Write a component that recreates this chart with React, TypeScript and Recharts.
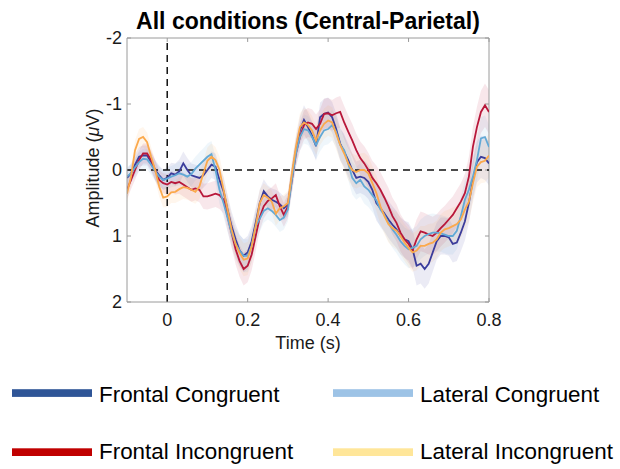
import React from "react";
import { ComposedChart, Line, Area, XAxis, YAxis, ReferenceLine } from "recharts";

// time (s), sampled every 10 ms
const times = [
  -0.1, -0.09, -0.08, -0.07, -0.06, -0.05, -0.04, -0.03, -0.02, -0.01,
  0, 0.01, 0.02, 0.03, 0.04, 0.05, 0.06, 0.07, 0.08, 0.09,
  0.1, 0.11, 0.12, 0.13, 0.14, 0.15, 0.16, 0.17, 0.18, 0.19,
  0.2, 0.21, 0.22, 0.23, 0.24, 0.25, 0.26, 0.27, 0.28, 0.29,
  0.3, 0.31, 0.32, 0.33, 0.34, 0.35, 0.36, 0.37, 0.38, 0.39,
  0.4, 0.41, 0.42, 0.43, 0.44, 0.45, 0.46, 0.47, 0.48, 0.49,
  0.5, 0.51, 0.52, 0.53, 0.54, 0.55, 0.56, 0.57, 0.58, 0.59,
  0.6, 0.61, 0.62, 0.63, 0.64, 0.65, 0.66, 0.67, 0.68, 0.69,
  0.7, 0.71, 0.72, 0.73, 0.74, 0.75, 0.76, 0.77, 0.78, 0.79,
  0.8,
];

const frontalCongruent = [
  0.12, 0.05, -0.08, -0.2, -0.22, -0.22, -0.12, 0.0, 0.08, 0.15,
  0.12, 0.05, 0.07, 0.02, -0.1, 0.0, 0.08, 0.1, 0.12, 0.08,
  0.0, -0.08, -0.05, 0.15, 0.32, 0.6, 0.85, 1.05, 1.22, 1.3,
  1.25, 1.08, 0.8, 0.5, 0.32, 0.4, 0.45, 0.48, 0.52, 0.58,
  0.52, 0.1, -0.3, -0.6, -0.76, -0.65, -0.52, -0.36, -0.8, -0.85,
  -0.87, -0.8, -0.62, -0.4, -0.28, -0.15, 0.0, 0.12, 0.1, 0.12,
  0.18, 0.3, 0.5, 0.58, 0.66, 0.75, 0.83, 0.9, 1.0, 1.05,
  1.08, 1.2, 1.45, 1.42, 1.5, 1.42, 1.25, 1.08, 1.0, 1.0,
  1.02, 1.12, 1.1, 0.95, 0.78, 0.5, 0.15, -0.12, -0.2, -0.18,
  -0.1,
];

const frontalIncongruent = [
  0.3, 0.15, 0.0, -0.15, -0.25, -0.25, -0.15, 0.0, 0.15, 0.2,
  0.22, 0.18, 0.2, 0.18, 0.22, 0.26, 0.3, 0.28, 0.3, 0.4,
  0.4, 0.38, 0.36, 0.38, 0.45, 0.7, 0.95, 1.2, 1.38, 1.5,
  1.45, 1.28, 1.0, 0.72, 0.55, 0.47, 0.43, 0.38, 0.55, 0.68,
  0.55, 0.15, -0.25, -0.5, -0.68, -0.72, -0.7, -0.62, -0.7, -0.85,
  -0.86, -0.83, -0.86, -0.88, -0.72, -0.58, -0.45, -0.3, -0.18, -0.1,
  0.0, 0.12, 0.2, 0.3, 0.42, 0.55, 0.7, 0.8, 0.95, 1.05,
  1.12, 1.22, 1.05, 0.93, 0.95, 0.98, 1.0, 0.95, 0.88, 0.82,
  0.75, 0.68, 0.58, 0.48, 0.35, 0.1, -0.35, -0.65, -0.88, -0.98,
  -0.88,
];

const lateralCongruent = [
  0.1, 0.05, -0.04, -0.12, -0.17, -0.16, -0.08, 0.02, 0.1, 0.15,
  0.13, 0.1, 0.08, 0.05, 0.07, 0.1, 0.06, -0.02, -0.08, -0.14,
  -0.2, -0.24, 0.0, 0.3, 0.5, 0.72, 0.95, 1.12, 1.22, 1.3,
  1.3, 1.15, 0.85, 0.74, 0.62, 0.58, 0.62, 0.68, 0.76, 0.72,
  0.6, 0.15, -0.25, -0.5, -0.62, -0.6, -0.5, -0.38, -0.5, -0.6,
  -0.62, -0.68, -0.58, -0.38, -0.3, -0.1, 0.12, 0.2, 0.15, 0.25,
  0.3, 0.38, 0.46, 0.6, 0.68, 0.8, 0.9, 0.98, 1.08, 1.15,
  1.2, 1.18, 1.15, 1.05, 1.0, 0.97, 0.95, 0.95, 0.96, 0.98,
  1.0, 1.0, 0.92, 0.7, 0.45, 0.3, 0.1, -0.15, -0.48, -0.5,
  -0.35,
];

const lateralIncongruent = [
  0.36, 0.1, -0.3, -0.47, -0.5, -0.42, -0.2, 0.0, 0.25, 0.42,
  0.4, 0.34, 0.33, 0.29, 0.26, 0.27, 0.3, 0.33, 0.25, 0.05,
  -0.14, -0.2, -0.15, 0.0, 0.3, 0.6, 0.9, 1.12, 1.26, 1.36,
  1.34, 1.15, 0.85, 0.5, 0.38, 0.42, 0.48, 0.66, 0.58, 0.55,
  0.5, 0.05, -0.35, -0.65, -0.72, -0.68, -0.6, -0.45, -0.6, -0.7,
  -0.75, -0.72, -0.55, -0.38, -0.25, -0.1, 0.0, 0.03, 0.0, 0.0,
  0.05, 0.2, 0.35, 0.55, 0.7, 0.82, 0.88, 0.92, 1.0, 1.1,
  1.18, 1.25, 1.22, 1.15, 1.15, 1.12, 1.1, 1.05, 0.95, 0.9,
  0.88, 0.85, 0.82, 0.75, 0.6, 0.48, 0.2, -0.05, -0.12, -0.14,
  -0.22,
];

// half width of the shaded error bands
const bandHalfWidth = [
  0.14, 0.14, 0.15, 0.15, 0.15, 0.15, 0.15, 0.15, 0.15, 0.15,
  0.16, 0.16, 0.17, 0.18, 0.18, 0.18, 0.18, 0.18, 0.19, 0.19,
  0.2, 0.2, 0.2, 0.21, 0.21, 0.22, 0.22, 0.23, 0.24, 0.25,
  0.25, 0.24, 0.23, 0.2, 0.18, 0.17, 0.17, 0.18, 0.18, 0.18,
  0.18, 0.2, 0.2, 0.21, 0.22, 0.22, 0.22, 0.22, 0.22, 0.23,
  0.23, 0.23, 0.24, 0.24, 0.25, 0.25, 0.25, 0.25, 0.25, 0.26,
  0.26, 0.26, 0.27, 0.27, 0.27, 0.28, 0.28, 0.28, 0.28, 0.28,
  0.29, 0.29, 0.3, 0.3, 0.3, 0.3, 0.29, 0.28, 0.28, 0.28,
  0.28, 0.28, 0.28, 0.28, 0.29, 0.3, 0.3, 0.31, 0.32, 0.33,
  0.33,
];

const xTicks = [0, 0.2, 0.4, 0.6, 0.8];
const yTicks = [-2, -1, 0, 1, 2];

const seriesKeys = ["fc", "fi", "lc", "li"];
const lineColors = ["#3b3c9b", "#b8173a", "#62a9d6", "#fba94c"];
const legendLabels = [
  "Frontal Congruent",
  "Lateral Congruent",
  "Frontal Incongruent",
  "Lateral Incongruent",
];
const legendColors = ["#2f5597", "#9dc3e6", "#c00000", "#ffe699"];

const sources = [frontalCongruent, frontalIncongruent, lateralCongruent, lateralIncongruent];

const rows = times.map((t, i) => {
  const row: Record<string, number | number[]> = { t };
  seriesKeys.forEach((k, j) => {
    const v = sources[j][i];
    row[k] = v;
    row[k + "Band"] = [v - bandHalfWidth[i], v + bandHalfWidth[i]];
  });
  return row;
});

const FONT = "'Liberation Sans', Arial, Helvetica, sans-serif";
const BOX = "#9a9a9a";

export default function App() {
  return (
    <div
      style={{
        position: "absolute",
        left: 0,
        top: 0,
        width: 620,
        height: 469,
        background: "#fff",
        fontFamily: FONT,
      }}
    >
      <ComposedChart
        width={620}
        height={469}
        data={rows}
        margin={{ top: 38, right: 131, bottom: 107, left: 0 }}
      >
        <XAxis
          dataKey="t"
          type="number"
          domain={[-0.1, 0.8]}
          ticks={xTicks}
          allowDataOverflow
          tickFormatter={(v: number) => String(v)}
          tickLine={false}
          tickSize={9}
          tickMargin={2}
          height={60}
          axisLine={{ stroke: BOX }}
          tick={{ fill: "#1a1a1a", fontSize: 18, fontFamily: FONT }}
        />
        <YAxis
          type="number"
          domain={[-2, 2]}
          reversed
          ticks={yTicks}
          allowDataOverflow
          width={127}
          tickLine={false}
          tickSize={3}
          tickMargin={2}
          axisLine={{ stroke: BOX }}
          tick={{ fill: "#1a1a1a", fontSize: 18, fontFamily: FONT }}
        />
        {/* box top and right */}
        <ReferenceLine y={-2} stroke={BOX} />
        <ReferenceLine x={0.8} stroke={BOX} />
        {/* inward tick marks */}
        {xTicks.map((v) => (
          <ReferenceLine
            key={"xb" + v}
            segment={[
              { x: v, y: 2 },
              { x: v, y: 1.94 },
            ]}
            stroke={BOX}
          />
        ))}
        {xTicks.map((v) => (
          <ReferenceLine
            key={"xt" + v}
            segment={[
              { x: v, y: -2 },
              { x: v, y: -1.94 },
            ]}
            stroke={BOX}
          />
        ))}
        {yTicks.map((v) => (
          <ReferenceLine
            key={"yl" + v}
            segment={[
              { x: -0.1, y: v },
              { x: -0.09, y: v },
            ]}
            stroke={BOX}
          />
        ))}
        {yTicks.map((v) => (
          <ReferenceLine
            key={"yr" + v}
            segment={[
              { x: 0.8, y: v },
              { x: 0.79, y: v },
            ]}
            stroke={BOX}
          />
        ))}
        {seriesKeys.map((k, j) => (
          <Area
            key={k + "Band"}
            type="linear"
            dataKey={k + "Band"}
            stroke="none"
            fill={lineColors[j]}
            fillOpacity={0.1}
            isAnimationActive={false}
            activeDot={false}
          />
        ))}
        <ReferenceLine y={0} stroke="#111" strokeWidth={1.5} strokeDasharray="7 5" />
        <ReferenceLine x={0} stroke="#111" strokeWidth={1.5} strokeDasharray="7 5" />
        {seriesKeys.map((k, j) => (
          <Line
            key={k}
            type="linear"
            dataKey={k}
            stroke={lineColors[j]}
            strokeWidth={1.8}
            dot={false}
            activeDot={false}
            isAnimationActive={false}
          />
        ))}
      </ComposedChart>

      <svg
        width={620}
        height={469}
        style={{ position: "absolute", left: 0, top: 0, pointerEvents: "none" }}
        fontFamily={FONT}
      >
        <text x={308} y={28.5} textAnchor="middle" fontSize={23} fontWeight="bold" fill="#000">
          All conditions (Central-Parietal)
        </text>
        <text x={308} y={349} textAnchor="middle" fontSize={18} fill="#1a1a1a">
          Time (s)
        </text>
        <text
          transform="translate(98.5,168) rotate(-90)"
          textAnchor="middle"
          fontSize={18}
          fill="#1a1a1a"
        >
          Amplitude (<tspan fontStyle="italic">μ</tspan>V)
        </text>
        {legendLabels.map((label, i) => {
          const col = i % 2;
          const row = Math.floor(i / 2);
          const sx = col === 0 ? 12 : 333;
          const sy = row === 0 ? 389.2 : 448.3;
          const base = row === 0 ? 401.7 : 458.5;
          return (
            <g key={label}>
              <rect x={sx} y={sy} width={80} height={7.7} fill={legendColors[i]} />
              <text x={sx + 87} y={base} fontSize={22.4} fill="#000">
                {label}
              </text>
            </g>
          );
        })}
      </svg>
    </div>
  );
}
